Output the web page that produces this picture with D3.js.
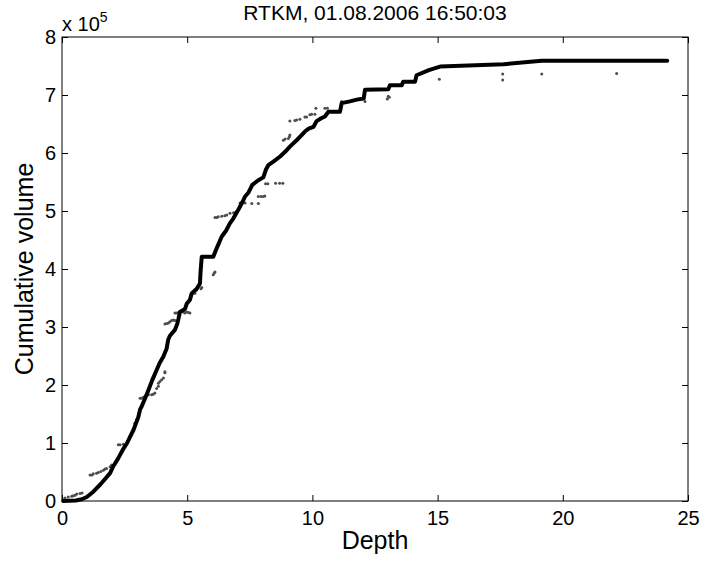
<!DOCTYPE html>
<html><head><meta charset="utf-8">
<script src="https://cdn.jsdelivr.net/npm/d3@7"></script>
<style>body{margin:0;background:#fff}text{font-family:"Liberation Sans",Arial,sans-serif;fill:#000}</style>
</head><body>
<svg id="c" width="704" height="562"></svg>
<script>
// Cumulative volume curve (volume in units of 1e5)
const lineDepth = [0.05,0.3,0.55,0.79,0.99,1.25,1.52,1.72,1.92,2.05,2.25,2.45,2.6,2.78,2.85,3.05,3.12,3.18,3.3,3.45,3.6,3.78,3.9,4.05,4.18,4.24,4.31,4.51,4.6,4.65,4.71,4.91,4.98,5.11,5.18,5.38,5.51,5.53,5.58,6.04,6.18,6.38,6.55,6.71,6.84,7.04,7.2,7.31,7.45,7.6,7.84,8.04,8.15,8.24,8.44,8.71,8.91,9.1,9.37,9.55,9.7,9.85,10.04,10.17,10.35,10.5,10.64,11.1,11.17,11.5,11.77,12.05,12.1,13.03,13.1,13.57,13.63,14.1,14.16,14.65,15.1,17.63,19.16,22.15,24.17];
const lineVolume = [0,0.005,0.01,0.03,0.07,0.16,0.28,0.38,0.48,0.6,0.74,0.9,1.0,1.16,1.22,1.45,1.58,1.63,1.75,1.91,2.08,2.26,2.38,2.49,2.63,2.78,2.85,2.95,3.05,3.14,3.26,3.31,3.4,3.47,3.58,3.66,3.75,3.93,4.21,4.21,4.36,4.56,4.66,4.79,4.87,5.02,5.15,5.25,5.32,5.45,5.53,5.58,5.72,5.79,5.85,5.94,6.02,6.11,6.22,6.3,6.37,6.42,6.45,6.55,6.6,6.63,6.71,6.71,6.86,6.89,6.92,6.94,7.09,7.1,7.17,7.17,7.23,7.23,7.34,7.43,7.49,7.53,7.59,7.59,7.59];
// Observed points
const dotDepth = [0.05,0.12,0.25,0.39,0.45,0.52,0.59,0.72,0.8,
 1.12,1.2,1.25,1.38,1.45,1.55,1.65,1.72,1.78,1.92,1.98,
 2.25,2.32,2.45,2.58,2.62,2.68,2.72,2.78,2.91,2.98,
 3.12,3.18,3.25,3.31,3.38,3.45,3.58,3.64,3.71,3.78,3.85,3.85,3.91,3.98,4.05,4.11,4.11,
 4.11,4.18,4.25,4.31,4.38,4.45,4.51,
 4.51,4.58,4.65,4.85,4.91,4.98,5.05,5.11,
 5.24,5.31,5.38,5.55,5.58,6.04,6.08,6.11,
 6.11,6.18,6.24,6.38,6.5,6.58,6.71,6.85,6.91,6.97,
 7.11,7.31,7.58,7.84,7.84,7.95,8.04,8.1,
 8.13,8.22,8.53,8.69,8.82,
 8.84,8.91,9.04,9.08,9.1,
 9.1,9.3,9.37,9.5,9.7,9.77,9.9,9.97,10.1,10.14,10.5,10.6,
 11.17,12.1,12.99,13.03,13.07,15.07,17.6,17.6,19.16,22.15];
const dotVolume = [0.02,0.05,0.07,0.08,0.09,0.1,0.12,0.13,0.14,
 0.45,0.45,0.47,0.48,0.49,0.51,0.53,0.55,0.56,0.59,0.62,
 0.97,0.97,0.98,0.99,1.03,1.07,1.11,1.14,1.34,1.4,
 1.77,1.77,1.79,1.8,1.82,1.83,1.83,1.84,1.86,1.94,1.98,2.03,2.06,2.09,2.12,2.21,2.23,
 3.05,3.06,3.07,3.09,3.11,3.12,3.11,
 3.24,3.24,3.25,3.26,3.24,3.26,3.25,3.24,
 3.58,3.58,3.64,3.66,3.68,3.9,3.93,3.95,
 4.89,4.89,4.9,4.91,4.92,4.93,4.96,4.97,4.97,4.99,
 5.14,5.14,5.13,5.13,5.25,5.25,5.25,5.26,
 5.47,5.47,5.48,5.48,5.48,
 6.22,6.24,6.25,6.28,6.31,
 6.55,6.56,6.57,6.58,6.62,6.62,6.66,6.67,6.67,6.77,6.77,6.77,
 6.89,6.89,6.93,6.98,6.96,7.27,7.36,7.26,7.36,7.37];
const xTicks = [0,5,10,15,20,25];
const yTicks = [0,1,2,3,4,5,6,7,8];
const titleText = "RTKM, 01.08.2006 16:50:03";
const xLabel = "Depth", yLabel = "Cumulative volume";

const L=62,R=688,T=37,B=501;
const svg=d3.select("#c");
const x=d3.scaleLinear().domain([0,25]).range([L,R]);
const y=d3.scaleLinear().domain([0,8]).range([B,T]);

// dots
svg.append("g").selectAll("circle").data(dotDepth.map((d,i)=>[d,dotVolume[i]])).join("circle")
 .attr("cx",d=>x(d[0])).attr("cy",d=>y(d[1])).attr("r",1.5).attr("fill","#4d4d4d");
// line
svg.append("path").datum(lineDepth.map((d,i)=>[d,lineVolume[i]]))
 .attr("d",d3.line().x(d=>x(d[0])).y(d=>y(d[1])))
 .attr("fill","none").attr("stroke","#000").attr("stroke-width",4).attr("stroke-linejoin","round").attr("stroke-linecap","round");

// axes (ticks inward on all sides)
const fs="20px";
const ax=svg.append("g").attr("transform",`translate(0,${B})`).call(d3.axisBottom(x).tickValues(xTicks).tickSizeInner(-6).tickSizeOuter(0).tickPadding(10));
const axt=svg.append("g").attr("transform",`translate(0,${T})`).call(d3.axisTop(x).tickValues(xTicks).tickSizeInner(-6).tickSizeOuter(0).tickFormat(""));
const ay=svg.append("g").attr("transform",`translate(${L},0)`).call(d3.axisLeft(y).tickValues(yTicks).tickSizeInner(-6).tickSizeOuter(0).tickPadding(6));
const ayr=svg.append("g").attr("transform",`translate(${R},0)`).call(d3.axisRight(y).tickValues(yTicks).tickSizeInner(-6).tickSizeOuter(0).tickFormat(""));
[ax,axt,ay,ayr].forEach(g=>{g.select(".domain").remove();g.selectAll("line").attr("stroke","#000");g.selectAll("text").attr("font-size",fs).attr("font-family","Liberation Sans, Arial, sans-serif");});
svg.append("rect").attr("x",L).attr("y",T).attr("width",R-L).attr("height",B-T).attr("fill","none").attr("stroke","#000").attr("stroke-width",1);

// exponent label
const ex=svg.append("text").attr("x",L).attr("y",31).attr("font-size","20px");
ex.append("tspan").text("x 10");
ex.append("tspan").attr("font-size","14px").attr("dy",-9).text("5");

svg.append("text").attr("x",(L+R)/2).attr("y",20).attr("text-anchor","middle").attr("font-size","21px").text(titleText);
svg.append("text").attr("x",(L+R)/2).attr("y",549).attr("text-anchor","middle").attr("font-size","25px").text(xLabel);
svg.append("text").attr("transform",`translate(33,${(T+B)/2}) rotate(-90)`).attr("text-anchor","middle").attr("font-size","25px").text(yLabel);
</script></body></html>
